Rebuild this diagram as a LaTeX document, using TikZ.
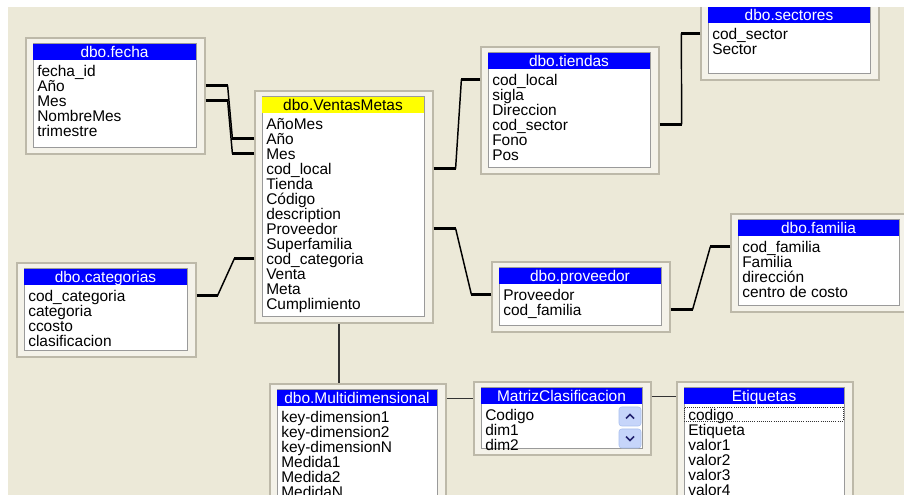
\documentclass[tikz,border=0pt]{standalone}
\usepackage{fontspec}
\setmainfont{Liberation Sans}
\usepackage{tikz}
\usetikzlibrary{fit}
\definecolor{Fondo}{HTML}{ECE9D8}
\definecolor{PanelFill}{HTML}{F4F2E9}
\definecolor{PanelEdge}{HTML}{BDB9A9}
\definecolor{BodyEdge}{HTML}{9A9A9A}
\definecolor{TitleBlue}{HTML}{0000FF}
\definecolor{TitleYellow}{HTML}{FFFF00}
\definecolor{BotonFill}{HTML}{C6D5FA}
\definecolor{BotonEdge}{HTML}{A9BFEE}
\definecolor{NiceDark}{HTML}{333333}

\tikzset{
  panel/.style={fill=PanelFill, draw=PanelEdge, line width=0.9pt, inner sep=0pt},
  cuerpo/.style={fill=white, draw=BodyEdge, line width=0.75pt, inner sep=0pt},
  barra/.style={fill=TitleBlue, inner sep=0pt},
  barra amarilla/.style={fill=TitleYellow, inner sep=0pt},
  texto/.style={inner sep=0pt, text height=8.3pt, text depth=0pt,
    font=\fontsize{11.6}{12}\selectfont},
  fila/.style={texto, anchor=west},
  enlace/.style={line width=1.1pt, black},
  extremo/.style={line width=2.4pt, black},
  fino/.style={line width=0.8pt, NiceDark},
  foco/.style={draw=NiceDark, densely dotted, line width=0.6pt, inner sep=0pt},
  boton/.style={fill=BotonFill, draw=BotonEdge, rounded corners=2pt, inner sep=0pt},
  chevron/.style={draw=NiceDark!70!blue, line width=1.3pt}
}

% one table: name, top left, bottom right, title, bar style, title colour, fields
\newcommand{\tabla}[9]{%
  \node[panel, fit={(#2,#3) (#4,#5)}] (#1) {};
  \node[cuerpo, fit={(#2+7,#3+6) (#4-9,#5-6)}] (#1-c) {};
  \node[#7, fit={(#2+7,#3+6) (#4-9,#3+22.5)}] (#1-t) {};
  \node[texto, text=#8] (#1-n) at (#1-t.center) {#6};
  \foreach \campo [count=\i] in {#9}
    \node[fila] (#1-\i) at (#2+11,#3+17.5+15*\i) {\campo};
}

% join line: thick stubs at both ends
\newcommand{\relacion}[4]{%
  \path (#1) ++(#3,0) coordinate (ra) (#2) ++(-#4,0) coordinate (rb);
  \draw[enlace] (ra) -- (rb);
  \draw[extremo] (#1) -- (ra);
  \draw[extremo] (#2) -- (rb);
}

\begin{document}
\begin{tikzpicture}[x=0.75pt, y=-0.75pt]
    \clip (0,0) rectangle (904,495);
    \fill[Fondo] (0,0) rectangle (904,495);
    % Tables
    \tabla{fecha}{26}{38}{205}{154}{dbo.fecha}{barra}{white}{fecha\_id, Año,
      Mes, NombreMes, trimestre}
    \tabla{vm}{255}{91}{433}{323}{dbo.VentasMetas}{barra amarilla}{black}{AñoMes,
      Año, Mes, cod\_local, Tienda, Código, description, Proveedor,
      Superfamilia, cod\_categoria, Venta, Meta, Cumplimiento}
    \tabla{tiendas}{481}{47}{659}{174}{dbo.tiendas}{barra}{white}{cod\_local,
      sigla, Direccion, cod\_sector, Fono, Pos}
    \tabla{sectores}{701}{1}{879}{80}{dbo.sectores}{barra}{white}{cod\_sector,
      Sector}
    \tabla{familia}{731}{214}{908}{312}{dbo.familia}{barra}{white}{cod\_familia,
      Familia, dirección, centro de costo}
    \tabla{proveedor}{492}{262}{670}{332}{dbo.proveedor}{barra}{white}{Proveedor,
      cod\_familia}
    \tabla{categorias}{17}{263}{196}{357}{dbo.categorias}{barra}{white}{cod\_categoria,
      categoria, ccosto, clasificacion}
    \tabla{multi}{270}{384}{446}{520}{dbo.Multidimensional}{barra}{white}{key-dimension1,
      key-dimension2, key-dimensionN, Medida1, Medida2, MedidaN}
    \tabla{matriz}{474}{382}{651}{455}{MatrizClasificacion}{barra}{white}{Codigo,
      dim1, dim2}
    \tabla{etiquetas}{677}{382}{853}{520}{Etiquetas}{barra}{white}{codigo,
      Etiqueta, valor1, valor2, valor3, valor4}
    % scroll buttons and focus
    \node[boton, fit={(619,407) (641,426)}] (matriz-arriba) {};
    \node[boton, fit={(619,429) (641,448)}] (matriz-abajo) {};
    \draw[chevron] (matriz-arriba.center) ++(-4,2) -- ++(4,-4) -- ++(4,4);
    \draw[chevron] (matriz-abajo.center) ++(-4,-2) -- ++(4,4) -- ++(4,-4);
    \node[foco, fit={(684,407) (843,421)}] (etiquetas-foco) {};
    % Joins
    \relacion{fecha.east |- fecha-2}{vm.west |- vm-2}{22}{22}
    \relacion{fecha.east |- fecha-3}{vm.west |- vm-3}{22}{22}
    \relacion{vm.east |- vm-4}{tiendas.west |- tiendas-1}{22}{19}
    \relacion{tiendas.east |- tiendas-4}{sectores.west |- sectores-1}{22}{19}
    \relacion{vm.east |- vm-8}{proveedor.west |- proveedor-1}{22}{20}
    \relacion{proveedor.east |- proveedor-2}{familia.west |- familia-1}{22}{20}
    \relacion{categorias.east |- categorias-1}{vm.west |- vm-10}{21}{20}
    \coordinate (eje) at (339,0);
    \draw[fino] (vm.south -| eje) -- (multi.north -| eje);
    \draw[fino] (multi.east |- multi-t) -- (matriz.west |- multi-t);
    \draw[fino] (matriz.east |- matriz-t) -- (etiquetas.west |- matriz-t);
    % white margins
    \fill[white] (0,0) rectangle (904,7);
    \fill[white] (0,0) rectangle (8,495);
\end{tikzpicture}
\end{document}
